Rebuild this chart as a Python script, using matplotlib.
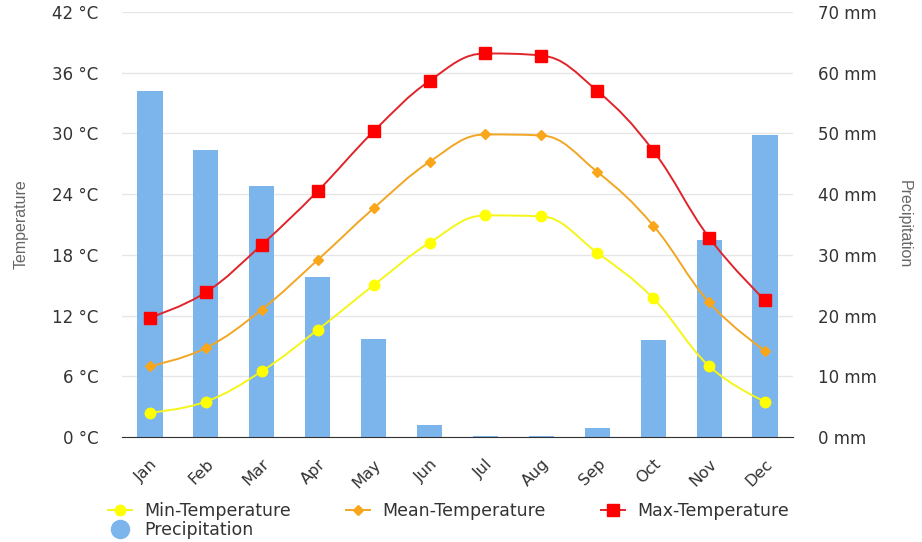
import matplotlib
matplotlib.use('Agg')
import matplotlib.pyplot as plt
import numpy as np
from matplotlib.path import Path
from matplotlib.patches import PathPatch
from matplotlib.lines import Line2D

months = ['Jan', 'Feb', 'Mar', 'Apr', 'May', 'Jun', 'Jul', 'Aug', 'Sep', 'Oct', 'Nov', 'Dec']
min_temp = [2.4, 3.5, 6.5, 10.6, 15.0, 19.2, 21.9, 21.8, 18.2, 13.7, 7.0, 3.5]
mean_temp = [7.0, 8.8, 12.6, 17.5, 22.6, 27.2, 29.9, 29.8, 26.2, 20.9, 13.3, 8.5]
max_temp = [11.8, 14.3, 19.0, 24.3, 30.2, 35.2, 37.9, 37.7, 34.2, 28.3, 19.7, 13.5]
precip = [57.0, 47.3, 41.3, 26.4, 16.1, 2.0, 0.2, 0.2, 1.5, 16.0, 32.5, 49.7]

temp_ticks = [0, 6, 12, 18, 24, 30, 36, 42]
precip_ticks = [0, 10, 20, 30, 40, 50, 60, 70]

TEXT = '#333333'
TITLE = '#666666'


def spline_path(xs, ys, smoothing=1.5):
    # smooth curve like a Highcharts spline series
    n = len(xs)
    right = [None] * n
    verts = [(xs[0], ys[0])]
    codes = [Path.MOVETO]
    for i in range(1, n):
        x, y = xs[i], ys[i]
        lx, ly = xs[i - 1], ys[i - 1]
        left_c = (x, y)
        if i < n - 1:
            nx, ny = xs[i + 1], ys[i + 1]
            d = smoothing + 1
            lcx, lcy = (smoothing * x + lx) / d, (smoothing * y + ly) / d
            rcx, rcy = (smoothing * x + nx) / d, (smoothing * y + ny) / d
            corr = (rcy - lcy) * (rcx - x) / (rcx - lcx) + y - rcy
            lcy += corr
            rcy += corr
            if lcy > ly and lcy > y:
                lcy = max(ly, y); rcy = 2 * y - lcy
            elif lcy < ly and lcy < y:
                lcy = min(ly, y); rcy = 2 * y - lcy
            if rcy > ny and rcy > y:
                rcy = max(ny, y); lcy = 2 * y - rcy
            elif rcy < ny and rcy < y:
                rcy = min(ny, y); lcy = 2 * y - rcy
            left_c = (lcx, lcy)
            right[i] = (rcx, rcy)
        prev_c = right[i - 1] if right[i - 1] is not None else (lx, ly)
        verts += [prev_c, left_c, (x, y)]
        codes += [Path.CURVE4] * 3
    return Path(verts, codes)


fig = plt.figure(figsize=(9.22, 5.42), dpi=100)
ax = fig.add_axes([122 / 922, 105 / 542, 671 / 922, 425 / 542])
ax2 = ax.twinx()

x = np.arange(len(months))

ax2.bar(x, precip, width=0.45, color='#7cb5ec', zorder=2)
ax2.set_ylim(0, 70)
ax2.set_yticks(precip_ticks)
ax2.set_yticklabels([f'{v} mm' for v in precip_ticks])
# grid drawn on the bar axes so it stays behind the bars
ax2.grid(axis='y', color='#e6e6e6', lw=1, zorder=0)
ax2.set_axisbelow(True)

series = [
    (min_temp, '#f5f51a', '#ffff00', 'o', 7.5, 'Min-Temperature'),
    (mean_temp, '#f2a623', '#f9a61a', 'D', 5.5, 'Mean-Temperature'),
    (max_temp, '#e0242a', '#ff0000', 's', 8, 'Max-Temperature'),
]
handles = []
for vals, lc, mc, mk, ms, name in series:
    ax.add_patch(PathPatch(spline_path(x, vals), transform=ax.transData,
                           fill=False, edgecolor=lc, lw=1.4, zorder=3))
    ax.plot(x, vals, ls='none', marker=mk, ms=ms, color=mc, mec=mc, zorder=4)
    handles.append(Line2D([], [], color=lc, lw=1.4, marker=mk, ms=ms,
                          markerfacecolor=mc, markeredgecolor=mc, label=name))
handles.insert(1, Line2D([], [], ls='none', marker='o', ms=13, color='#7cb5ec',
                         label='Precipitation'))

# temperature lines sit in front of the bars
ax.set_zorder(ax2.get_zorder() + 1)
ax.patch.set_visible(False)

ax.set_xlim(-0.5, 11.5)
ax.set_ylim(0, 42)
ax.set_yticks(temp_ticks)
ax.set_yticklabels([f'{v} °C' for v in temp_ticks])
ax.set_xticks(x)
ax.set_xticklabels(months, rotation=45, ha='right', rotation_mode='anchor')

for a in (ax, ax2):
    for s in ('top', 'left', 'right'):
        a.spines[s].set_visible(False)
    a.tick_params(length=0, labelsize=12, labelcolor=TEXT)
ax.spines['bottom'].set_color('#333333')
ax2.spines['bottom'].set_visible(False)
ax.tick_params(axis='y', pad=17)
ax2.tick_params(axis='y', pad=18)
ax.tick_params(axis='x', pad=14, labelsize=11.5)

ax.set_ylabel('Temperature', color=TITLE, fontsize=11.5,
              family='Liberation Sans', labelpad=17)
ax2.set_ylabel('Precipitation', color=TITLE, fontsize=11.5, rotation=270,
               family='Liberation Sans', labelpad=25)

fig.legend(handles=handles, loc='lower left', bbox_to_anchor=(96 / 922, -9 / 542),
           ncol=3, frameon=False, fontsize=12.5, labelcolor=TEXT,
           handlelength=1.4, handletextpad=0.7, columnspacing=3.15,
           labelspacing=0.05, borderpad=0.2)

fig.savefig('out.png', dpi=100)
